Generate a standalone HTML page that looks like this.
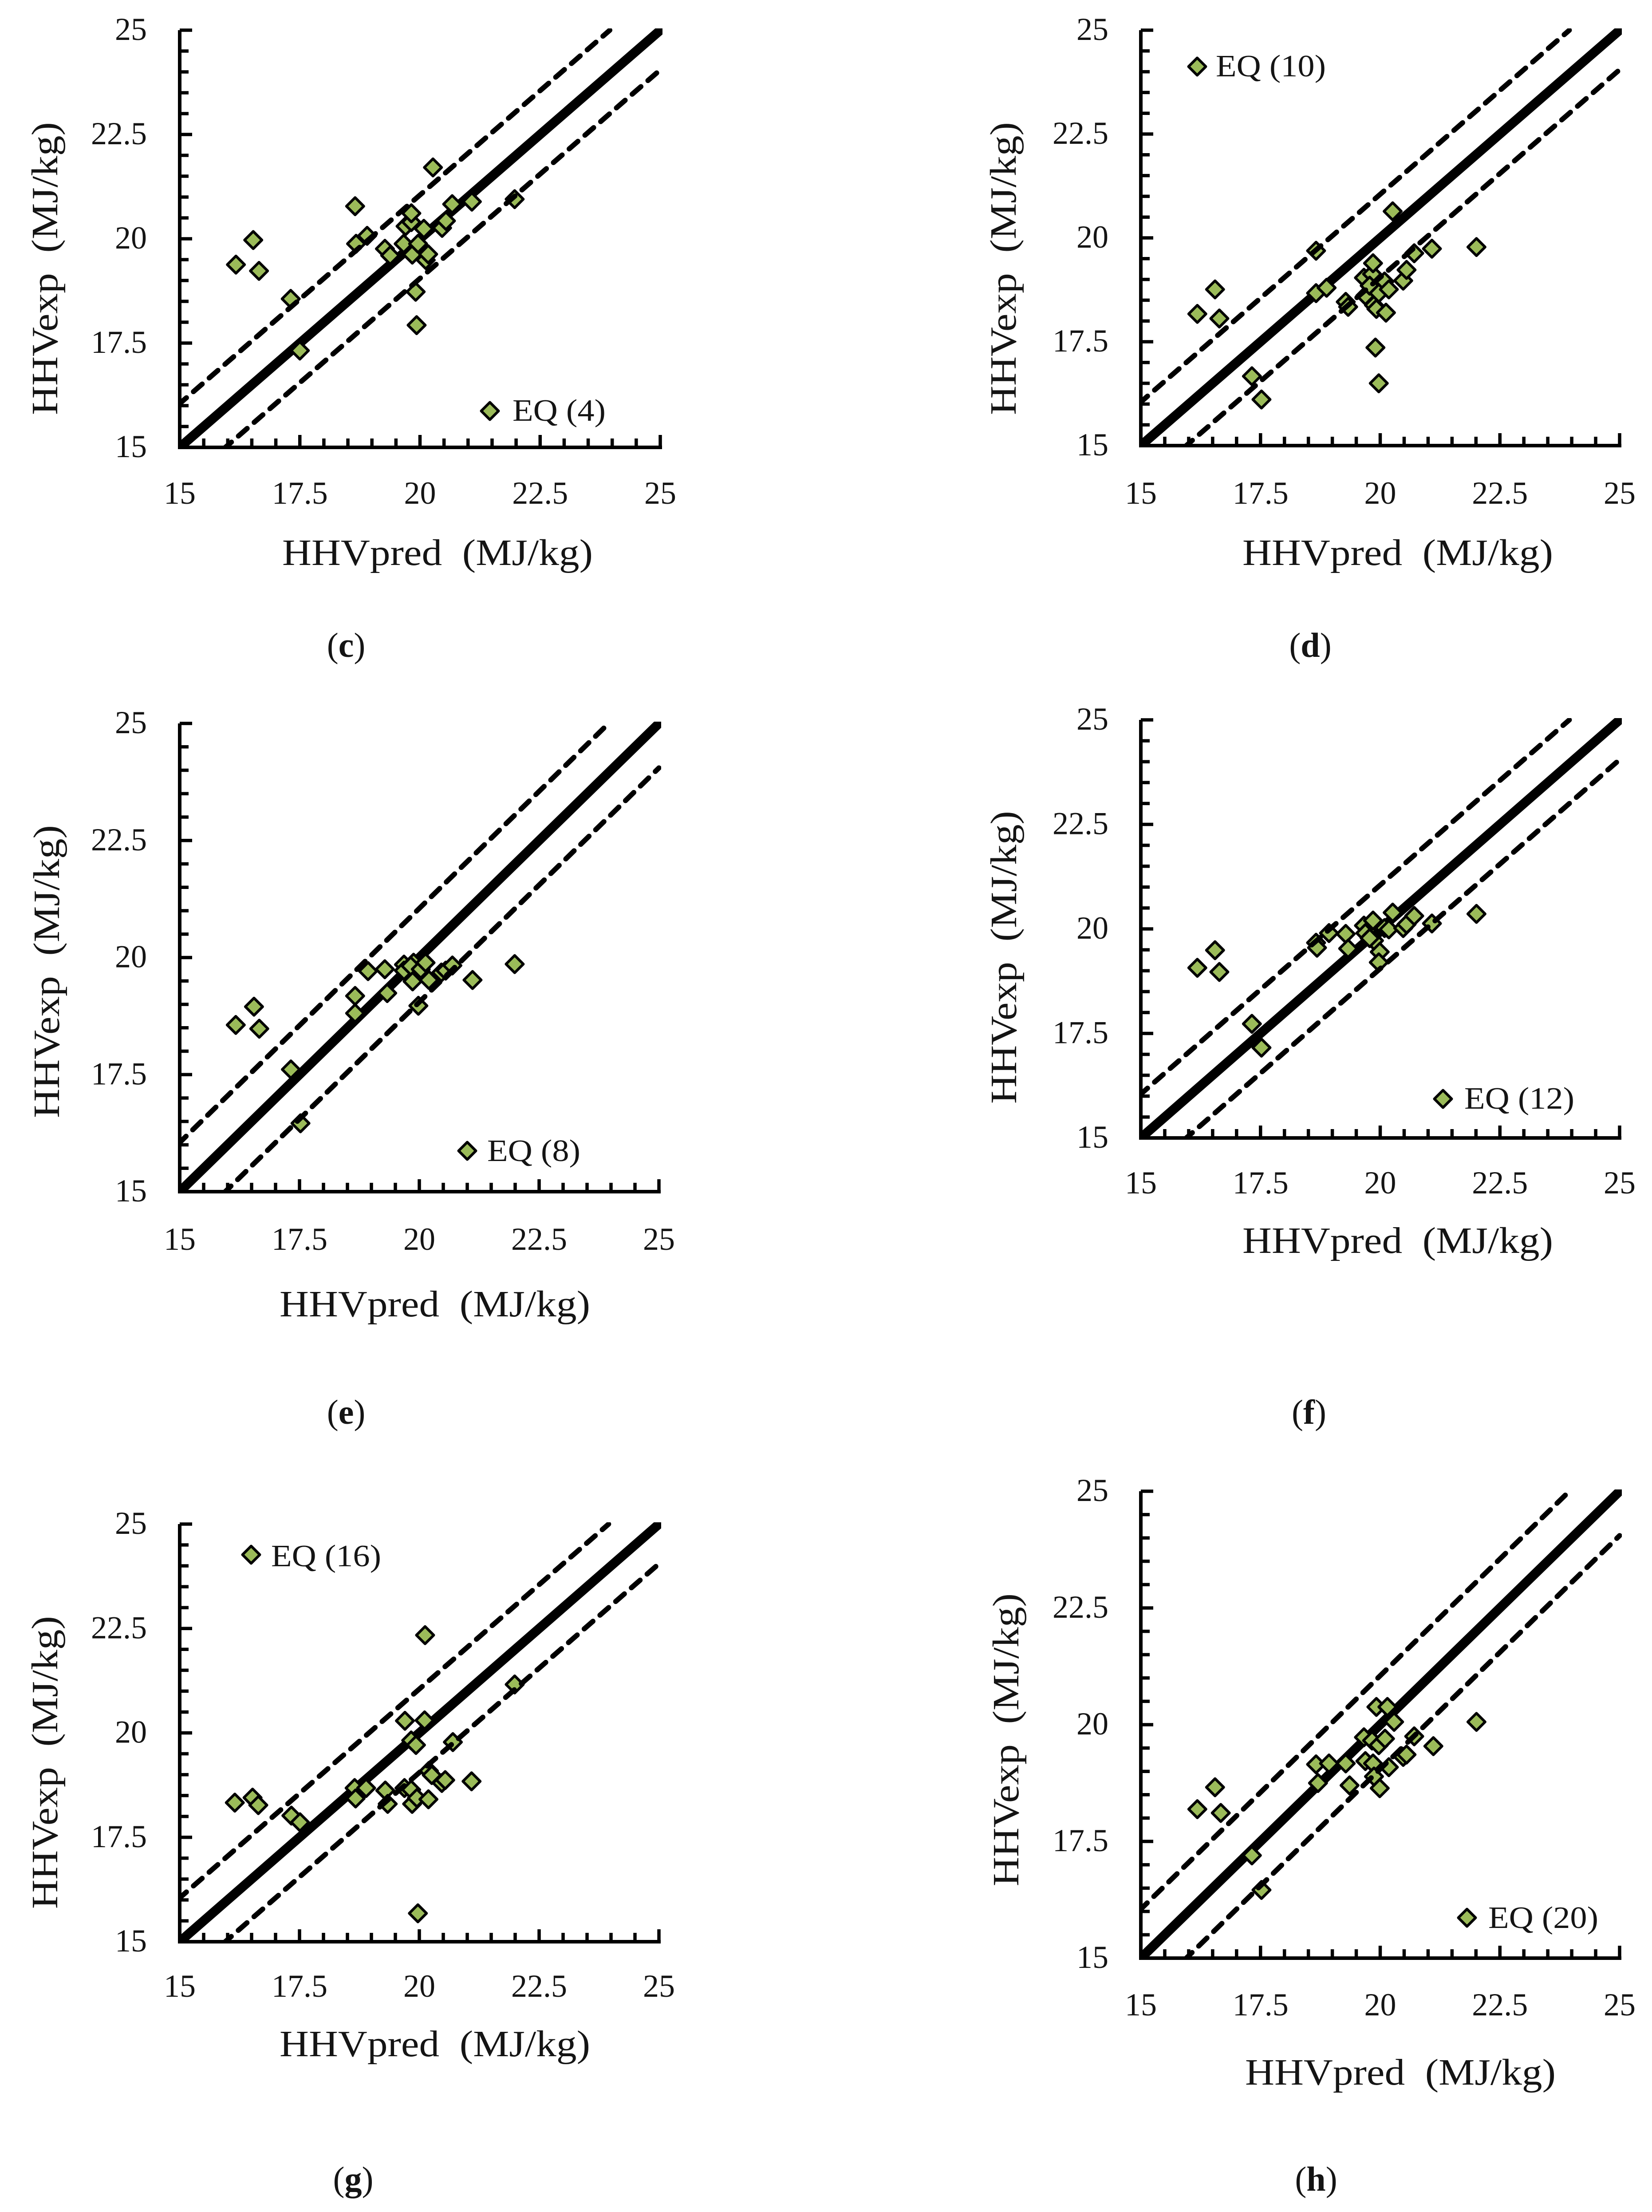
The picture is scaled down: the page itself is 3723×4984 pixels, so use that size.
<!DOCTYPE html>
<html>
<head>
<meta charset="utf-8">
<title>HHV predicted vs experimental parity plots</title>
<style>
html,body{margin:0;padding:0;background:#fff;}
svg{display:block;}
text{font-family:"Liberation Serif",serif;fill:#141414;}
</style>
</head>
<body>
<svg id="figure" xmlns="http://www.w3.org/2000/svg" width="3723" height="4984" viewBox="0 0 3723 4984"></svg>
<script>
const axisMin = 15;
const axisMax = 25;
const tickLabels = ["15", "17.5", "20", "22.5", "25"];
const tickValues = [15, 17.5, 20, 22.5, 25];
const upperOffset = [1.05];
const lowerOffset = [0.95];

const predC = [16.17,16.53,16.65,17.31,17.5,18.65,18.67,18.9,19.27,19.38,19.66,19.7,19.82,19.82,19.84,19.96,20.08,19.93,19.91,20.12,20.17,20.46,20.54,20.67,21.08,21.97,20.27];
const expC = [19.38,19.97,19.23,18.56,17.32,20.78,19.88,20.07,19.76,19.6,19.88,20.3,20.4,20.61,19.62,19.88,20.24,17.93,18.73,19.49,19.63,20.26,20.43,20.83,20.89,20.95,21.71];

const predD = [16.18,16.55,16.64,17.32,17.52,18.66,18.66,18.88,19.28,19.33,19.66,19.69,19.83,19.85,19.78,19.87,19.92,19.97,20.09,20.12,20.18,19.9,19.97,20.26,20.48,20.55,20.71,21.08,22.01];
const expD = [18.17,18.76,18.06,16.67,16.11,19.69,18.67,18.8,18.46,18.34,19.04,18.61,19.13,19.39,18.85,18.38,18.29,18.67,18.95,18.2,18.76,17.36,16.5,20.64,18.97,19.23,19.63,19.74,19.78];

const predE = [16.17,16.55,16.66,17.32,17.52,18.66,18.66,18.93,19.28,19.33,19.68,19.68,19.88,19.82,19.86,20.03,19.98,20.13,20.2,20.46,20.55,20.69,21.11,21.99];
const expE = [18.56,18.95,18.48,17.61,16.46,19.18,18.81,19.71,19.75,19.24,19.85,19.72,19.89,19.82,19.49,19.75,18.97,19.89,19.52,19.68,19.72,19.83,19.52,19.86];

const predF = [16.18,16.55,16.64,17.32,17.52,18.66,18.68,18.93,19.28,19.33,19.66,19.69,19.83,19.85,19.87,19.99,19.97,20.09,20.18,20.48,20.55,20.71,20.26,21.08,22.01,19.78];
const expF = [19.07,19.49,18.97,17.73,17.16,19.67,19.55,19.9,19.88,19.53,20.08,19.9,19.84,20.2,19.72,19.45,19.2,20.02,19.99,20.02,20.11,20.31,20.39,20.13,20.36,19.78];

const predG = [16.15,16.52,16.64,17.33,17.51,18.65,18.67,18.89,19.29,19.34,19.69,19.7,19.83,19.83,19.85,19.95,19.93,19.97,20.11,20.12,20.19,20.2,20.26,20.47,20.54,20.7,21.09,21.99];
const expG = [18.33,18.45,18.27,18.02,17.86,18.68,18.43,18.68,18.62,18.3,18.68,20.29,18.64,19.82,18.3,18.44,19.71,15.68,20.3,22.34,18.41,19.09,18.99,18.8,18.87,19.78,18.84,21.16];

const predH = [16.18,16.55,16.67,17.32,17.52,18.66,18.7,18.93,19.28,19.36,19.66,19.69,19.83,19.85,19.87,19.97,19.92,19.99,20.1,20.15,20.18,20.29,20.48,20.55,20.71,21.11,22.01];
const expH = [18.19,18.66,18.11,17.2,16.46,19.15,18.75,19.17,19.17,18.7,19.73,19.22,19.66,19.17,18.89,19.56,20.38,18.64,19.7,20.38,19.09,20.06,19.31,19.36,19.75,19.54,20.06];

const panels = [
 {id:"c",eq:"EQ (4)",px:predC,py:expC,L:405,R:1488,T:68,B:1008,yl:331,xb:1135,xtc:986,xtb:1273,ytx:129,ytc:605,cc:780,cb:1480,mx:1104,my:926,lx:1155,lw:210,lb:948},
 {id:"d",eq:"EQ (10)",px:predD,py:expD,L:2571,R:3650,T:68,B:1004,yl:2498,xb:1135,xtc:3150,xtb:1273,ytx:2289,ytc:605,cc:2953,cb:1480,mx:2698,my:150,lx:2740,lw:248,lb:172},
 {id:"e",eq:"EQ (8)",px:predE,py:expE,L:405,R:1485,T:1630,B:2685,yl:331,xb:2816,xtc:980,xtb:2966,ytx:133,ytc:2189,cc:780,cb:3208,mx:1053,my:2593,lx:1098,lw:210,lb:2616},
 {id:"f",eq:"EQ (12)",px:predF,py:expF,L:2571,R:3650,T:1622,B:2564,yl:2498,xb:2689,xtc:3150,xtb:2823,ytx:2290,ytc:2157,cc:2950,cb:3208,mx:3252,my:2476,lx:3300,lw:248,lb:2498},
 {id:"g",eq:"EQ (16)",px:predG,py:expG,L:405,R:1485,T:3434,B:4375,yl:331,xb:4499,xtc:980,xtb:4633,ytx:129,ytc:3971,cc:796,cb:4936,mx:566,my:3503,lx:611,lw:248,lb:3529},
 {id:"h",eq:"EQ (20)",px:predH,py:expH,L:2571,R:3650,T:3360,B:4412,yl:2498,xb:4541,xtc:3156,xtb:4697,ytx:2295,ytc:3920,cc:2966,cb:4936,mx:3306,my:4321,lx:3354,lw:248,lb:4344}
];

const NS = "http://www.w3.org/2000/svg";
const fig = document.getElementById("figure");
const GREEN = "#9bbb59";
const INK = "#000";

function mk(tag, props, parent){
  const el = document.createElementNS(NS, tag);
  for (const k in props) el.setAttribute(k, props[k]);
  parent.appendChild(el);
  return el;
}
function diamondPoints(cx, cy, r){
  return (cx)+","+(cy-r)+" "+(cx+r)+","+cy+" "+cx+","+(cy+r)+" "+(cx-r)+","+cy;
}

const defs = mk("defs", {}, fig);
panels.forEach(function(p){
  const cp = mk("clipPath", {id:"clip-"+p.id}, defs);
  mk("rect", {x:p.L,y:p.T-4,width:p.R-p.L+5,height:p.B-p.T+4}, cp);
});

panels.forEach(function(p){
  const sx = function(v){ return p.L + (v-axisMin)/(axisMax-axisMin)*(p.R-p.L); };
  const sy = function(v){ return p.B - (v-axisMin)/(axisMax-axisMin)*(p.B-p.T); };

  const g = mk("g", {}, fig);
  
  

  // solid 1:1 line (extended past the corner, clipped at plot edge)
  const solid = mk("line", {x1:sx(15),y1:sy(15),x2:sx(25.3),y2:sy(25.3),stroke:"#000","stroke-width":21,"clip-path":"url(#clip-"+p.id+")"}, g);
  
  

  // data points
  p.px.forEach(function(v,i){
    const d = mk("polygon", {points:diamondPoints(sx(v),sy(p.py[i]),19.5),fill:GREEN,stroke:"#000","stroke-width":6,"stroke-linejoin":"round"}, g);
    
    
  });

  // dashed error band lines
  const up = mk("line", {x1:sx(15),y1:sy(15+upperOffset[0]),x2:sx(25-upperOffset[0]),y2:sy(25),stroke:"#000","stroke-width":11.5,"stroke-linecap":"round","stroke-dasharray":"26 21","stroke-dashoffset":6,"clip-path":"url(#clip-"+p.id+")"}, g);
  
  
  const low = mk("line", {x1:sx(15+lowerOffset[0]),y1:sy(15),x2:sx(25),y2:sy(25-lowerOffset[0]),stroke:"#000","stroke-width":11.5,"stroke-linecap":"round","stroke-dasharray":"26 21","stroke-dashoffset":8,"clip-path":"url(#clip-"+p.id+")"}, g);
  
  

  // axes
  const yAxis = mk("line", {x1:p.L,y1:p.T,x2:p.L,y2:p.B+4,stroke:INK,"stroke-width":8}, g);
  
  
  const xAxis = mk("line", {x1:p.L-4,y1:p.B,x2:p.R+4,y2:p.B,stroke:INK,"stroke-width":8}, g);
  
  

  for (let k = 0; k <= 20; k++){
    const v = axisMin + k*0.5;
    const major = k % 5 === 0;
    const ty = mk("line", {x1:p.L,y1:sy(v),x2:p.L+(major?28:20),y2:sy(v),stroke:INK,"stroke-width":7.5}, g);
    
    
    const tx = mk("line", {x1:sx(v),y1:p.B,x2:sx(v),y2:p.B-(major?28:20),stroke:INK,"stroke-width":7.5}, g);
    
    
  }

  tickValues.forEach(function(v,i){
    const yl = mk("text", {x:p.yl,y:sy(v)+22,"text-anchor":"end","font-size":72}, g);
    yl.textContent = tickLabels[i];
    
    
    const xl = mk("text", {x:sx(v),y:p.xb,"text-anchor":"middle","font-size":72}, g);
    xl.textContent = tickLabels[i];
    
    
  });

  const xt = mk("text", {x:p.xtc,y:p.xtb,"text-anchor":"middle","font-size":84,textLength:700,lengthAdjust:"spacingAndGlyphs"}, g);
  xt.textContent = "HHVpred\u00a0 (MJ/kg)";
  
  

  const yt = mk("text", {x:0,y:0,transform:"translate("+p.ytx+","+p.ytc+") rotate(-90)","text-anchor":"middle","font-size":84,textLength:660,lengthAdjust:"spacingAndGlyphs"}, g);
  yt.textContent = "HHVexp\u00a0 (MJ/kg)";
  
  

  // legend
  const lm = mk("polygon", {points:diamondPoints(p.mx,p.my,19.5),fill:GREEN,stroke:"#000","stroke-width":6,"stroke-linejoin":"round"}, g);
  
  
  const lt = mk("text", {x:p.lx,y:p.lb,"font-size":70,textLength:p.lw,lengthAdjust:"spacingAndGlyphs"}, g);
  lt.textContent = p.eq;
  
  

  // caption
  const cap = mk("text", {x:p.cc,y:p.cb,"text-anchor":"middle","font-size":78}, g);
  
  
  cap.appendChild(document.createTextNode("("));
  const b = mk("tspan", {"font-weight":"bold"}, cap);
  b.textContent = p.id;
  cap.appendChild(document.createTextNode(")"));
});
</script>
</body>
</html>
